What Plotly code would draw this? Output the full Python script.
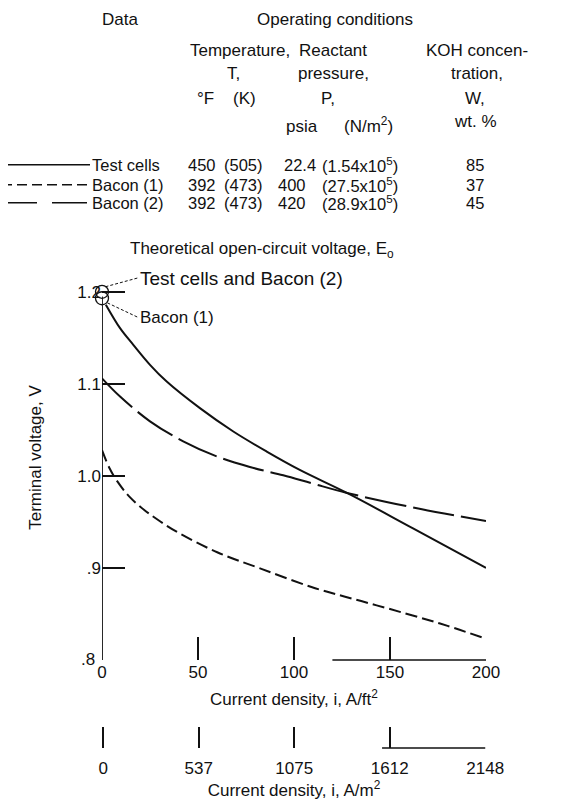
import plotly.graph_objects as go

# ---------------- data ----------------
series_names = ["Test cells", "Bacon (1)", "Bacon (2)"]

tc_x = [2, 9.4, 16.3, 25, 33.7, 51, 68.4, 85.8, 103, 127.6, 162, 200]
tc_y = [1.186, 1.1605, 1.1424, 1.1207, 1.1025, 1.0736, 1.0482, 1.0264, 1.0065, 0.9815, 0.943, 0.900]

b1_x = [0, 4, 8, 14, 22, 30, 40, 60, 83, 111, 135, 159, 180, 200]
b1_y = [1.028, 1.008, 0.994, 0.978, 0.963, 0.951, 0.938, 0.917, 0.899, 0.878, 0.864, 0.850, 0.837, 0.823]

b2_x = [0, 9.4, 25, 42.3, 59.7, 77, 94.4, 110, 127.6, 166, 200]
b2_y = [1.106, 1.0862, 1.0593, 1.0376, 1.0212, 1.0097, 1.0006, 0.9915, 0.9815, 0.964, 0.951]

# theoretical open-circuit voltages E0
e0_x = [0, 0]
e0_y = [1.200, 1.193]
e0_labels = ["Test cells and Bacon (2)", "Bacon (1)"]

# table of operating conditions
temp_F = ["450", "392", "392"]
temp_K = ["(505)", "(473)", "(473)"]
press_psia = ["22.4", "400", "420"]
press_Nm2 = ["(1.54x10<sup>5</sup>)", "(27.5x10<sup>5</sup>)", "(28.9x10<sup>5</sup>)"]
koh_wt = ["85", "37", "45"]

ft_ticks = [0, 50, 100, 150, 200]
ft_ticktext = ["0", "50", "100", "150", "200"]
m2_ticktext = ["0", "537", "1075", "1612", "2148"]
v_ticks = [0.9, 1.0, 1.1, 1.2]
v_ticktext = [".9", "1.0", "1.1", "1.2"]

# ---------------- geometry helpers (screen pixel -> paper) ----------------
OFF = 8                      # default page margin around the figure
W, H = 573 - OFF, 799
L, R, T, B = 102, 486, 255.2, 748   # plot area, in window pixels
FONT = "Liberation Sans, Arial, sans-serif"
BLACK = "#111"


def px(x):
    return (x - L) / (R - L)


def py(y):
    return (B - y) / (B - T)


main_bottom = py(660)

fig = go.Figure()

fig.add_trace(go.Scatter(x=tc_x, y=tc_y, mode="lines", name=series_names[0],
                         line=dict(color=BLACK, width=2, shape="spline")))
fig.add_trace(go.Scatter(x=b1_x, y=b1_y, mode="lines", name=series_names[1],
                         line=dict(color=BLACK, width=2, shape="spline", dash="12px,5px")))
fig.add_trace(go.Scatter(x=b2_x, y=b2_y, mode="lines", name=series_names[2],
                         line=dict(color=BLACK, width=2, shape="spline", dash="42px,7px")))
fig.add_trace(go.Scatter(x=e0_x, y=e0_y, mode="markers", name="E0", cliponaxis=False,
                         marker=dict(symbol="circle-open", size=13, color=BLACK,
                                     line=dict(color=BLACK, width=1.3))))
# invisible trace for the SI current-density axis
fig.add_trace(go.Scatter(x=ft_ticks, y=[0.5] * len(ft_ticks), xaxis="x2", yaxis="y2",
                         mode="markers", marker=dict(opacity=0), hoverinfo="skip"))

shapes = []
annotations = []

# y axis line (from 0.8 to 1.2)
shapes.append(dict(type="line", xref="x", yref="y", x0=0, x1=0, y0=0.8, y1=1.195,
                   line=dict(color=BLACK, width=1.8)))
# partial bottom axis lines (as in the original)
shapes.append(dict(type="line", xref="x", yref="paper", x0=120, x1=200,
                   y0=main_bottom, y1=main_bottom, line=dict(color=BLACK, width=1.5)))
shapes.append(dict(type="line", xref="x2", yref="paper", x0=146, x1=200,
                   y0=0, y1=0, line=dict(color=BLACK, width=1.5)))

# leader lines to E0 labels
shapes.append(dict(type="line", xref="x", yref="y", x0=1.8, y0=1.2055, x1=18.5, y1=1.215,
                   line=dict(color=BLACK, width=1, dash="3px,2px")))
shapes.append(dict(type="line", xref="x", yref="y", x0=2.8, y0=1.188, x1=18.5, y1=1.1725,
                   line=dict(color=BLACK, width=1, dash="3px,2px")))
annotations.append(dict(xref="x", yref="y", x=19, y=1.215, text=e0_labels[0],
                        showarrow=False, xanchor="left", yanchor="middle",
                        font=dict(size=19)))
annotations.append(dict(xref="x", yref="y", x=19, y=1.1725, text=e0_labels[1],
                        showarrow=False, xanchor="left", yanchor="middle",
                        font=dict(size=17)))
annotations.append(dict(xref="paper", yref="paper", x=px(128), y=py(250),
                        text="Theoretical open-circuit voltage, E<sub>o</sub>",
                        showarrow=False, xanchor="left", yanchor="middle",
                        font=dict(size=17)))
# ".8" label (no tick at 0.8)
annotations.append(dict(xref="paper", yref="y", x=px(97), y=0.8, text=".8",
                        showarrow=False, xanchor="right", yanchor="middle",
                        font=dict(size=17)))


# ---------------- header table ----------------
def txt(x, y, s, anchor="center", size=17):
    annotations.append(dict(xref="paper", yref="paper", x=px(x), y=py(y), text=s,
                            showarrow=False, xanchor=anchor, yanchor="middle",
                            font=dict(size=size)))


txt(120, 20, "Data")
txt(335, 20, "Operating conditions")
txt(240, 51, "Temperature,")
txt(233, 74, "T,")
txt(205, 99, "°F")
txt(244, 99, "(K)")
txt(333, 51, "Reactant")
txt(333, 74, "pressure,")
txt(328, 99, "P,")
txt(302, 127, "psia")
txt(368, 125, "(N/m<sup>2</sup>)")
txt(477, 51, "KOH concen-")
txt(477, 74, "tration,")
txt(475, 99, "W,")
txt(475, 122, "wt. %")

row_y = [165, 185, 203]
row_dash = ["solid", "10px,5px", "35px,15px"]
for i in range(3):
    y = row_y[i]
    shapes.append(dict(type="line", xref="paper", yref="paper", x0=px(2), x1=px(90),
                       y0=py(y), y1=py(y), line=dict(color=BLACK, width=1.5, dash=row_dash[i])))
    txt(90, y, series_names[i], anchor="left", size=16.5)
    txt(202, y, temp_F[i], size=16.5)
    txt(243, y, temp_K[i], size=16.5)
    txt(300 if i == 0 else 292, y, press_psia[i], size=16.5)
    txt(360, y, press_Nm2[i], size=16.5)
    txt(475, y, koh_wt[i], size=16.5)

axis_font = dict(family=FONT, size=17, color=BLACK)

fig.update_layout(
    width=W, height=H,
    margin=dict(l=L - OFF, r=573 - R, t=T - OFF, b=H + OFF - B, pad=0, autoexpand=False),
    paper_bgcolor="white", plot_bgcolor="white",
    showlegend=False,
    font=dict(family=FONT, size=17, color=BLACK),
    shapes=shapes,
    annotations=annotations,
    xaxis=dict(range=[0, 200], domain=[0, 1], anchor="y", automargin=False,
               tickvals=ft_ticks, ticktext=ft_ticktext,
               ticks="inside", ticklen=23, tickwidth=1.5, tickcolor=BLACK,
               showline=False, showgrid=False, zeroline=False,
               tickfont=axis_font,
               title=dict(text="Current density, i, A/ft<sup>2</sup>", font=axis_font, standoff=12)),
    yaxis=dict(range=[0.8, 1.24], domain=[main_bottom, 1], anchor="x", automargin=False,
               tickvals=v_ticks, ticktext=v_ticktext,
               ticks="inside", ticklen=23, tickwidth=1.5, tickcolor=BLACK,
               showline=False, showgrid=False, zeroline=False,
               tickfont=axis_font,
               title=dict(text="Terminal voltage, V", font=axis_font, standoff=31)),
    xaxis2=dict(range=[-0.6, 200.4], domain=[0, 1], anchor="y2", automargin=False,
                tickvals=ft_ticks, ticktext=m2_ticktext,
                ticks="inside", ticklen=21, tickwidth=1.5, tickcolor=BLACK,
                showline=False, showgrid=False, zeroline=False,
                ticklabelstandoff=8,
                tickfont=axis_font,
                title=dict(text="Current density, i, A/m<sup>2</sup>", font=axis_font, standoff=7)),
    yaxis2=dict(range=[0, 1], domain=[0, 0.05], anchor="x2", visible=False),
)

fig.write_html("out.html")
